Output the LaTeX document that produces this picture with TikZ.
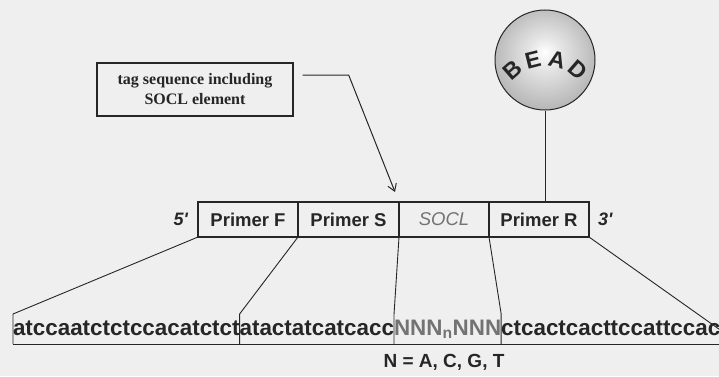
\documentclass[tikz,border=0pt]{standalone}
\usepackage{fontspec}
\setmainfont{Liberation Serif}
\newfontfamily\arialfont{Liberation Sans}
\usetikzlibrary{arrows.meta,positioning,calc}

\definecolor{bgpaper}{RGB}{239,239,239}
\definecolor{ink}{RGB}{38,38,38}
\definecolor{nfill}{RGB}{115,115,115}
\pgfdeclareradialshading{beadshade}{\pgfpoint{0bp}{4bp}}%
  {color(0bp)=(white); color(8bp)=(white!90!black); color(30bp)=(black!32);
   color(50bp)=(black!58)}

\begin{document}
\begin{tikzpicture}[x=1pt,y=1pt,
  seg/.style={draw=ink, line width=1.6pt, minimum height=35pt, inner sep=0pt,
              outer sep=0pt, text=ink,
              font=\arialfont\bfseries\fontsize{18.5}{20}\selectfont},
  socl/.style={seg, text=black!55,
               font=\arialfont\itshape\fontsize{18.5}{20}\selectfont},
  endlab/.style={inner sep=0pt, text=ink,
                 font=\arialfont\bfseries\itshape\fontsize{18}{20}\selectfont},
  seq/.style={inner sep=0pt, outer sep=0pt, anchor=base west, text=ink,
              text height=21pt, text depth=9pt,
              font=\arialfont\bfseries\fontsize{22.4}{24}\selectfont},
  keylab/.style={inner sep=0pt, text=ink,
                 font=\arialfont\bfseries\fontsize{19}{21}\selectfont},
  tagbox/.style={draw=ink, line width=1.3pt, minimum width=196pt,
                 minimum height=53pt, align=center, text=ink,
                 font=\bfseries\fontsize{16}{20}\selectfont},
  bead/.style={circle, draw=ink, line width=1pt, minimum size=100pt,
               shading=beadshade},
  beadlab/.style={inner sep=0pt, text=ink,
                  font=\arialfont\bfseries\fontsize{23}{25}\selectfont},
  wire/.style={draw=ink, line width=0.9pt},
  arr/.style={draw=ink, line width=1pt, -{Straight Barb[length=7pt,width=9pt]}}]
\useasboundingbox (0,0) rectangle (719,376);
\clip (0,0) rectangle (719,376);
\fill[bgpaper] (0,0) rectangle (719,376);
% ---- construct: primer blocks ----
\node[seg, minimum width=100pt] (pf) at (248,156.5) {Primer F};
\node[seg, minimum width=101pt, right=0pt of pf] (ps) {Primer S};
\node[socl, minimum width=90pt, right=0pt of ps] (sc) {SOCL};
\node[seg, minimum width=100pt, right=0pt of sc] (pr) {Primer R};
\node[endlab, left=10pt of pf] (five) {5'};
\node[endlab, right=9pt of pr] (three) {3'};
% ---- bead on its stalk ----
\node[bead] (bead) at (545,316) {};
\coordinate (arc) at (545,268);
\foreach \ch/\ang in {B/131,E/104,A/76,D/49}
  \node[beadlab, rotate=\ang-90] (l\ch) at ($(arc)+(\ang:50)$) {\ch};
\draw[wire] (bead.south) -- (bead.south |- pr.north);
% ---- tag label and pointer ----
\node[tagbox] (tag) at (195,286.5) {tag sequence including\\SOCL element};
\draw[arr] ([shift={(9,14.5)}]tag.east) -- ++(46,0)
  -- ([shift={(-4,10)}]ps.north east);
% ---- sequence row ----
\node[seq] (s1) at (13,41) {atccaatctctccacatctct};
\node[seq] (s2) at (s1.base east) {atactatcatcacc};
\node[seq, text=nfill] (s3) at (s2.base east) {NNN\textsubscript{n}NNN};
\node[seq] (s4) at (s3.base east) {ctcactcacttccattccac};
\coordinate (rend) at (740,32);
\node[keylab, anchor=base] (key) at (444,9) {N = A, C, G, T};
% ---- expansion lines ----
\draw[wire] (s1.south west) -- (rend);
\draw[wire] (pf.south west) -- (s1.north west) -- (s1.south west);
\draw[wire] (pf.south east) -- (s2.north west) -- (s2.south west);
\draw[wire] (ps.south east) -- (s3.north west) -- (s3.south west);
\draw[wire] (sc.south east) -- (s4.north west) -- (s4.south west);
\draw[wire] (pr.south east) -- (rend);
\end{tikzpicture}
\end{document}
